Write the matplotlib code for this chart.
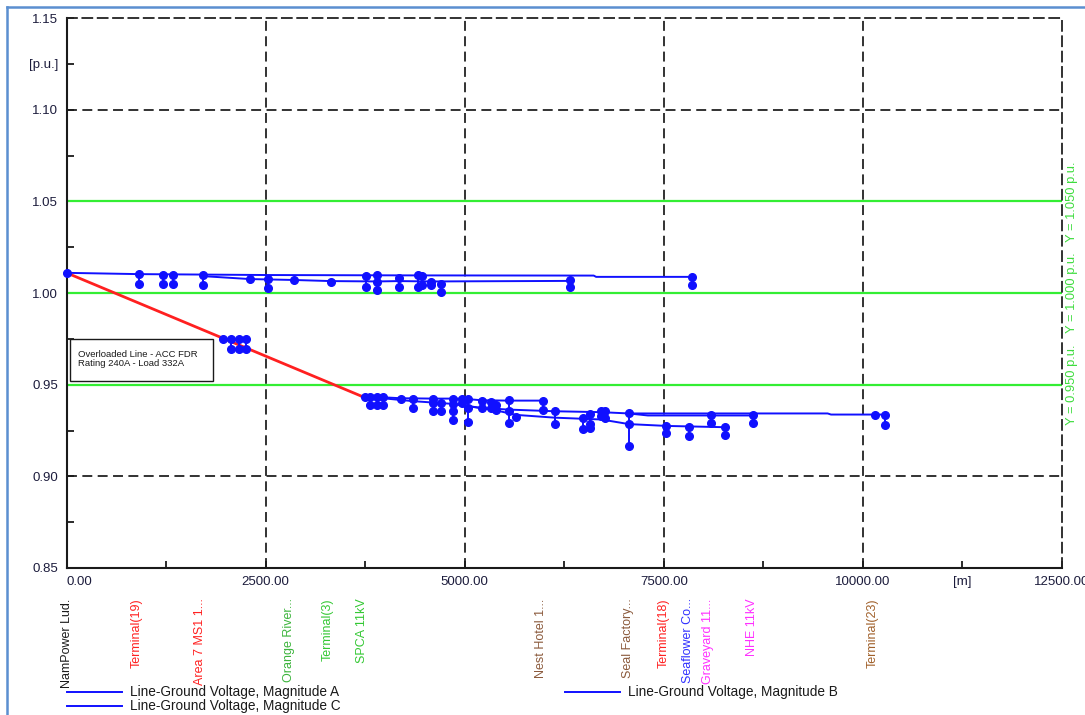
"""
Voltage profile along feeder (distance vs line-ground voltage, p.u.).
Writes out.png.
"""
import matplotlib
matplotlib.use("Agg")
import matplotlib.pyplot as plt
import matplotlib.transforms as mtransforms
from matplotlib.lines import Line2D
from matplotlib.patches import Rectangle

plt.rcParams["font.family"] = ["Liberation Sans", "DejaVu Sans"]

BLUE = "#1010ff"
GRID = (0, (5.5, 3))

# overloaded section (red)
RED_X = [0, 3705]
RED_V = [1.0110, 0.9437]

# upper branch traces
UPPER_A_X = [0, 906, 2525, 4408, 6620, 6650, 7850]
UPPER_A_V = [1.0110, 1.0103, 1.0098, 1.0096, 1.0095, 1.0088, 1.0088]
UPPER_B_X = [1713, 2303, 2525, 2862, 3320, 3897, 4173, 4575, 6319]
UPPER_B_V = [1.0092, 1.0076, 1.0074, 1.0071, 1.0065, 1.0063, 1.0065, 1.0063, 1.0066]

# Area 7 MS1 cluster
AREA7_X = [1964, 2253]
AREA7_V = [0.9750, 0.9750]

# lower branch traces
LOWER_A_X = [3705, 3975, 4198, 4604, 4960, 5211, 5554, 5984]
LOWER_A_V = [0.9437, 0.9431, 0.9426, 0.9424, 0.9424, 0.9415, 0.9413, 0.9413]
LOWER_B_X = [3705, 4352, 4855, 5211, 5554, 6131, 6717, 7060, 9557, 9600, 10280]
LOWER_B_V = [0.9437, 0.9410, 0.9395, 0.9373, 0.9364, 0.9355, 0.9350, 0.9343, 0.9343, 0.9337, 0.9337]
LOWER_C_X = [4855, 5399, 5650, 6131, 6717, 7060, 7532, 8263]
LOWER_C_V = [0.9395, 0.9359, 0.9335, 0.9320, 0.9310, 0.9285, 0.9275, 0.9268]
LOWER_D_X = [7060, 7300, 8088, 8616]
LOWER_D_V = [0.9343, 0.9332, 0.9332, 0.9332]

# terminals: distance and the phase voltages shown there
NODE_X = [0, 906, 1211, 1343, 1713, 2303, 2525, 2862, 3320, 3756, 3897, 4173, 4408,
          4470, 4575, 4697, 6319, 7850,
          1964, 2064, 2165, 2253,
          3744, 3809, 3893, 3976, 4198, 4352, 4604, 4700, 4855, 4960, 5043, 5211,
          5336, 5399, 5554, 5650, 5984, 6131, 6487, 6570, 6717, 6767, 7060, 7532,
          7812, 8088, 8263, 8616, 10146, 10280]
NODE_V = [[1.0110], [1.0101, 1.0049], [1.0099, 1.0049], [1.0098, 1.0049], [1.0096, 1.0043],
          [1.0076], [1.0076, 1.0026], [1.0071], [1.0061], [1.0092, 1.0034],
          [1.0098, 1.0061, 1.0016], [1.0080, 1.0034], [1.0098, 1.0034],
          [1.0092, 1.0043], [1.0061, 1.0043], [1.0049, 1.0007], [1.0071, 1.0034],
          [1.0090, 1.0043],
          [0.9750], [0.9750, 0.9696], [0.9750, 0.9696], [0.9750, 0.9696],
          [0.9431], [0.9431, 0.9388], [0.9431, 0.9388], [0.9431, 0.9388], [0.9424],
          [0.9424, 0.9373], [0.9424, 0.9400, 0.9355], [0.9400, 0.9355],
          [0.9424, 0.9395, 0.9355, 0.9305], [0.9424, 0.9400], [0.9424, 0.9373, 0.9298],
          [0.9413, 0.9373], [0.9406, 0.9373], [0.9391, 0.9364], [0.9419, 0.9359, 0.9292],
          [0.9323], [0.9413, 0.9364], [0.9355, 0.9286], [0.9319, 0.9256],
          [0.9341, 0.9286, 0.9265], [0.9355, 0.9328], [0.9355, 0.9319],
          [0.9343, 0.9283, 0.9166], [0.9274, 0.9238], [0.9270, 0.9220], [0.9332, 0.9292],
          [0.9270, 0.9227], [0.9332, 0.9292], [0.9337], [0.9337, 0.9278]]

# voltage limits (green)
LIMITS = [1.05, 1.00, 0.95]
LIMIT_LABELS = ["Y = 1.050 p.u.", "Y = 1.000 p.u.", "Y = 0.950 p.u."]

X_TICKS = [0, 2500, 5000, 7500, 10000, 12500]
X_TICK_LABELS = ["0.00", "2500.00", "5000.00", "7500.00", "10000.00", "12500.00"]
Y_TICKS = [0.85, 0.90, 0.95, 1.00, 1.05, 1.10, 1.15]
Y_TICK_LABELS = ["0.85", "0.90", "0.95", "1.00", "1.05", "1.10", "1.15"]

# terminal names under the axis
TERM_X = [0, 885, 1678, 2792, 3282, 3708, 5955, 7047, 7499, 7800, 8051, 8603, 10121]
TERM_NAMES = ["NamPower Lud.", "Terminal(19)", "Area 7 MS1 1...", "Orange River...",
              "Terminal(3)", "SPCA 11kV", "Nest Hotel 1...", "Seal Factory...",
              "Terminal(18)", "Seaflower Co...", "Graveyard 11...", "NHE 11kV",
              "Terminal(23)"]
TERM_COLORS = ["#1a1a1a", "#ff2020", "#ff2020", "#3cb43c", "#33c833", "#33c833",
               "#8b5a3c", "#8b5a3c", "#ff2020", "#3030ff", "#ff30ff", "#ff30ff",
               "#a0602a"]

W, H = 1085, 715
fig = plt.figure(figsize=(W / 100, H / 100), dpi=100)
ax = fig.add_axes([66.5 / W, 1 - 568 / H, (1062 - 66.5) / W, (568 - 18) / H])

ax.set_xlim(0, 12500)
ax.set_ylim(0.85, 1.15)

# grid
for x in [2500, 5000, 7500, 10000]:
    ax.axvline(x, color="#222222", lw=1.3, ls=GRID, zorder=1)
for y in [0.90, 1.10]:
    ax.axhline(y, color="#222222", lw=1.3, ls=GRID, zorder=1)
for y in LIMITS:
    ax.axhline(y, color="#33ee33", lw=1.6, zorder=2)

tr_right = mtransforms.blended_transform_factory(ax.transAxes, ax.transData)
for y, lab in zip(LIMITS, LIMIT_LABELS):
    ax.text(1.0105, y, lab, transform=tr_right, rotation=90, ha="center", va="center",
            color="#3ddc3d", fontsize=9.3, clip_on=False)

# traces
for xs, vs in [(UPPER_A_X, UPPER_A_V), (UPPER_B_X, UPPER_B_V), (AREA7_X, AREA7_V),
               (LOWER_A_X, LOWER_A_V), (LOWER_B_X, LOWER_B_V),
               (LOWER_C_X, LOWER_C_V), (LOWER_D_X, LOWER_D_V)]:
    ax.plot(xs, vs, color=BLUE, lw=1.4, zorder=3)
ax.plot(RED_X, RED_V, color="#ff2020", lw=2.0, zorder=4)

for x, vs in zip(NODE_X, NODE_V):
    ax.plot([x] * len(vs), vs, color=BLUE, lw=1.4, marker="o", ms=5.5,
            zorder=5, clip_on=False)

# spines and ticks
for side in ["left", "bottom"]:
    ax.spines[side].set_linewidth(1.5)
    ax.spines[side].set_color("#1a1a1a")
for side in ["top", "right"]:
    ax.spines[side].set_linewidth(1.3)
    ax.spines[side].set_linestyle(GRID)
    ax.spines[side].set_color("#222222")

ax.set_xticks(X_TICKS)
ax.set_xticklabels(X_TICK_LABELS)
ax.set_xticks([1250, 3750, 6250, 8750, 11250], minor=True)
ax.set_xticklabels(["", "", "", "", "[m]"], minor=True)
ax.set_yticks(Y_TICKS)
ax.set_yticklabels(Y_TICK_LABELS)
ax.set_yticks([0.875, 0.925, 0.975, 1.025, 1.075, 1.125], minor=True)
ax.set_yticklabels(["", "", "", "", "", "[p.u.]"], minor=True)
ax.tick_params(which="both", direction="in", length=5, width=1.3, color="#1a1a1a",
               labelsize=9.5, labelcolor="#1c1c3c", top=False, right=False)
ax.tick_params(axis="x", which="both", pad=6)
ax.tick_params(axis="y", which="both", pad=6)
ax.get_xticklabels()[0].set_ha("left")

# terminal names
tr_bottom = mtransforms.blended_transform_factory(ax.transData, ax.transAxes)
for x, name, c in zip(TERM_X, TERM_NAMES, TERM_COLORS):
    ax.text(x, -0.055, name, transform=tr_bottom, rotation=90, ha="center", va="top",
            color=c, fontsize=9.0, clip_on=False)

# annotation box
fig.add_artist(Rectangle((70 / W, 1 - 381 / H), 143 / W, 42 / H, transform=fig.transFigure,
                         facecolor="white", edgecolor="#1a1a1a", lw=1.0, zorder=6))
fig.text(78 / W, 1 - 350 / H, "Overloaded Line - ACC FDR\nRating 240A - Load 332A",
         fontsize=6.8, color="#1a1a1a", va="top", ha="left", linespacing=1.0, zorder=7)

# legend
for (x0, y0), lab in [((67, 692), "Line-Ground Voltage, Magnitude A"),
                      ((565, 692), "Line-Ground Voltage, Magnitude B"),
                      ((67, 706), "Line-Ground Voltage, Magnitude C")]:
    fig.add_artist(Line2D([x0 / W, (x0 + 55) / W], [1 - y0 / H, 1 - y0 / H],
                          color=BLUE, lw=1.4, transform=fig.transFigure))
    fig.text((x0 + 63) / W, 1 - y0 / H, lab, fontsize=9.8, color="#1a1a1a",
             va="center", ha="left")

# window frame
fig.add_artist(Line2D([7 / W, 1], [1 - 7 / H, 1 - 7 / H], color="#5b8fd0", lw=1.8,
                      transform=fig.transFigure))
fig.add_artist(Line2D([7 / W, 7 / W], [0, 1 - 7 / H], color="#5b8fd0", lw=1.8,
                      transform=fig.transFigure))

fig.savefig("out.png", dpi=100)
